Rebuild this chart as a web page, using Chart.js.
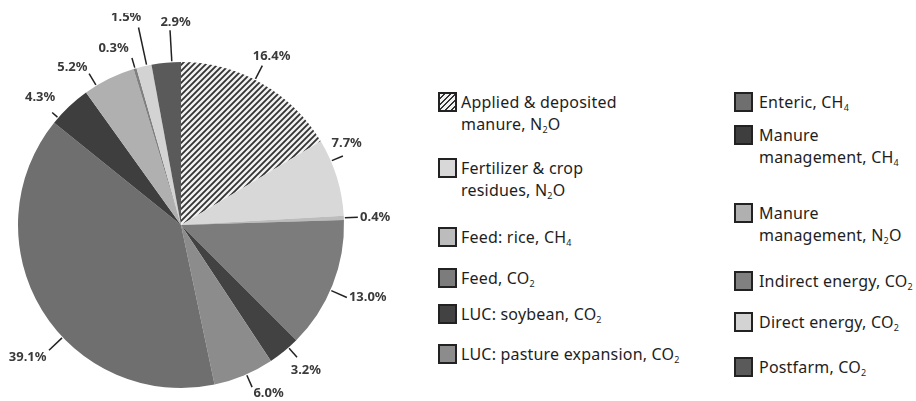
<!DOCTYPE html>
<html>
<head>
<meta charset="utf-8">
<script src="https://cdn.jsdelivr.net/npm/chart.js@4.4.1/dist/chart.umd.min.js"></script>
<style>
  html, body { margin: 0; padding: 0; background: #fff; }
  #wrap { position: relative; width: 916px; height: 401px; overflow: hidden; }
  #chart-box { position: absolute; left: 0; top: 0; width: 420px; height: 401px; }
  .item { position: absolute; font-family: 'Noto Sans', sans-serif; font-size: 16px; color: #1e1e1e; letter-spacing: 0.2px; }
  .swatch { position: absolute; left: 0; top: 0; width: 19px; height: 20px; box-sizing: border-box; border: 2px solid #222; }
  .text { position: absolute; top: -1px; line-height: 22px; white-space: pre; }
  .text sub { font-size: 9px; vertical-align: -3px; line-height: 0; }
</style>
</head>
<body>
<div id="wrap">
  <div id="chart-box"><canvas id="pie-chart"></canvas></div>
  <div id="legend"></div>
</div>
<script>
const labels = [
    'Applied & deposited\nmanure, N₂O',
    'Fertilizer & crop\nresidues, N₂O',
    'Feed: rice, CH₄',
    'Feed, CO₂',
    'LUC: soybean, CO₂',
    'LUC: pasture expansion, CO₂',
    'Enteric, CH₄',
    'Manure\nmanagement, CH₄',
    'Manure\nmanagement, N₂O',
    'Indirect energy, CO₂',
    'Direct energy, CO₂',
    'Postfarm, CO₂'
];
const shares = [16.4, 7.7, 0.4, 13.0, 3.2, 6.0, 39.1, 4.3, 5.2, 0.3, 1.5, 2.9];
const shareLabels = ['16.4%', '7.7%', '0.4%', '13.0%', '3.2%', '6.0%', '39.1%', '4.3%', '5.2%', '0.3%', '1.5%', '2.9%'];

// grey shades, first slice is hatched
const sliceColors = ['hatch', '#d8d8d8', '#bcbcbc', '#7c7c7c', '#424242', '#8c8c8c',
    '#6f6f6f', '#3e3e3e', '#b0b0b0', '#808080', '#d3d3d3', '#5a5a5a'];

// leader lines: angle tweak (deg), length (px), text nudge
const leaderAngle = [-2.5, -6, 0, 2, -2, -1, -12, -5.5, -5, 0, 1, 2];
const leaderLen = [16, 13, 14, 18, 13, 14, 19, 8, 14, 11, 39, 32];
const textNudge = [[2, 5], [-13, -5], [0, 1], [1, -9], [-2, 1], [11, -6], [-7, -7], [1, -4], [-9, 6], [-15, 2], [-10, 1], [6, 1]];

// legend layout
const legendColX = [438, 734];
const legendTextX = [23, 25];
const legendTops = [92, 158, 227, 268, 304, 344, 92, 125, 203, 271, 312, 357];

function makeHatch() {
    const s = 6;
    const c = document.createElement('canvas');
    c.width = s; c.height = s;
    const g = c.getContext('2d');
    g.fillStyle = '#f2f2f2';
    g.fillRect(0, 0, s, s);
    g.strokeStyle = '#333333';
    g.lineWidth = 1.8;
    g.beginPath();
    g.moveTo(0, s); g.lineTo(s, 0);
    g.moveTo(-1, 1); g.lineTo(1, -1);
    g.moveTo(s - 1, s + 1); g.lineTo(s + 1, s - 1);
    g.stroke();
    return g.createPattern(c, 'repeat');
}

const hatch = makeHatch();
const bg = sliceColors.map(c => c === 'hatch' ? hatch : c);

const leaderPlugin = {
    id: 'leaders',
    afterDatasetsDraw(chart) {
        const ctx = chart.ctx;
        const meta = chart.getDatasetMeta(0);
        ctx.save();
        // the source picture is cropped a little above the top labels
        ctx.beginPath();
        ctx.rect(0, 13, chart.width, chart.height);
        ctx.clip();
        ctx.font = 'bold 13px "Noto Sans", sans-serif';
        ctx.fillStyle = '#3a3a3a';
        ctx.strokeStyle = '#222';
        ctx.lineWidth = 1.5;
        ctx.textAlign = 'center';
        ctx.textBaseline = 'middle';
        meta.data.forEach((arc, i) => {
            const p = arc.getProps(['x', 'y', 'startAngle', 'endAngle', 'outerRadius'], true);
            const a = (p.startAngle + p.endAngle) / 2 + leaderAngle[i] * Math.PI / 180;
            const dx = Math.cos(a), dy = Math.sin(a);
            const r = p.outerRadius;
            const ex = p.x + (r + leaderLen[i]) * dx;
            const ey = p.y + (r + leaderLen[i]) * dy;
            ctx.beginPath();
            ctx.moveTo(p.x + (r + 1) * dx, p.y + (r + 1) * dy);
            ctx.lineTo(ex, ey);
            ctx.stroke();
            const hw = ctx.measureText(shareLabels[i]).width / 2;
            const off = hw * Math.abs(dx) + 6 * Math.abs(dy) + 2;
            ctx.fillText(shareLabels[i], ex + dx * off + textNudge[i][0], ey + dy * off + textNudge[i][1]);
        });
        ctx.restore();
    }
};

const ctx = document.getElementById('pie-chart').getContext('2d');
const pieChart = new Chart(ctx, {
    type: 'pie',
    data: {
        labels: labels,
        datasets: [{
            data: shares,
            backgroundColor: bg,
            borderWidth: 0
        }]
    },
    options: {
        responsive: true,
        maintainAspectRatio: false,
        animation: false,
        layout: { padding: { left: 18, right: 76, top: 62, bottom: 13 } },
        plugins: {
            legend: { display: false },
            tooltip: { enabled: false }
        }
    },
    plugins: [leaderPlugin]
});

// html legend so the subscripts stay real text
const legendEl = document.getElementById('legend');
labels.forEach((label, i) => {
    const col = i < 6 ? 0 : 1;
    const item = document.createElement('div');
    item.className = 'item';
    item.style.left = legendColX[col] + 'px';
    item.style.top = legendTops[i] + 'px';
    const sw = document.createElement('div');
    sw.className = 'swatch';
    if (sliceColors[i] === 'hatch') {
        sw.style.background = 'repeating-linear-gradient(135deg, #f2f2f2 0 2.5px, #333 2.5px 4px)';
    } else {
        sw.style.background = sliceColors[i];
    }
    const tx = document.createElement('div');
    tx.className = 'text';
    tx.style.left = legendTextX[col] + 'px';
    tx.innerHTML = label.replace(/&/g, '&amp;').replace(/₂/g, '<sub>2</sub>').replace(/₄/g, '<sub>4</sub>');
    item.appendChild(sw);
    item.appendChild(tx);
    legendEl.appendChild(item);
});
</script>
</body>
</html>
